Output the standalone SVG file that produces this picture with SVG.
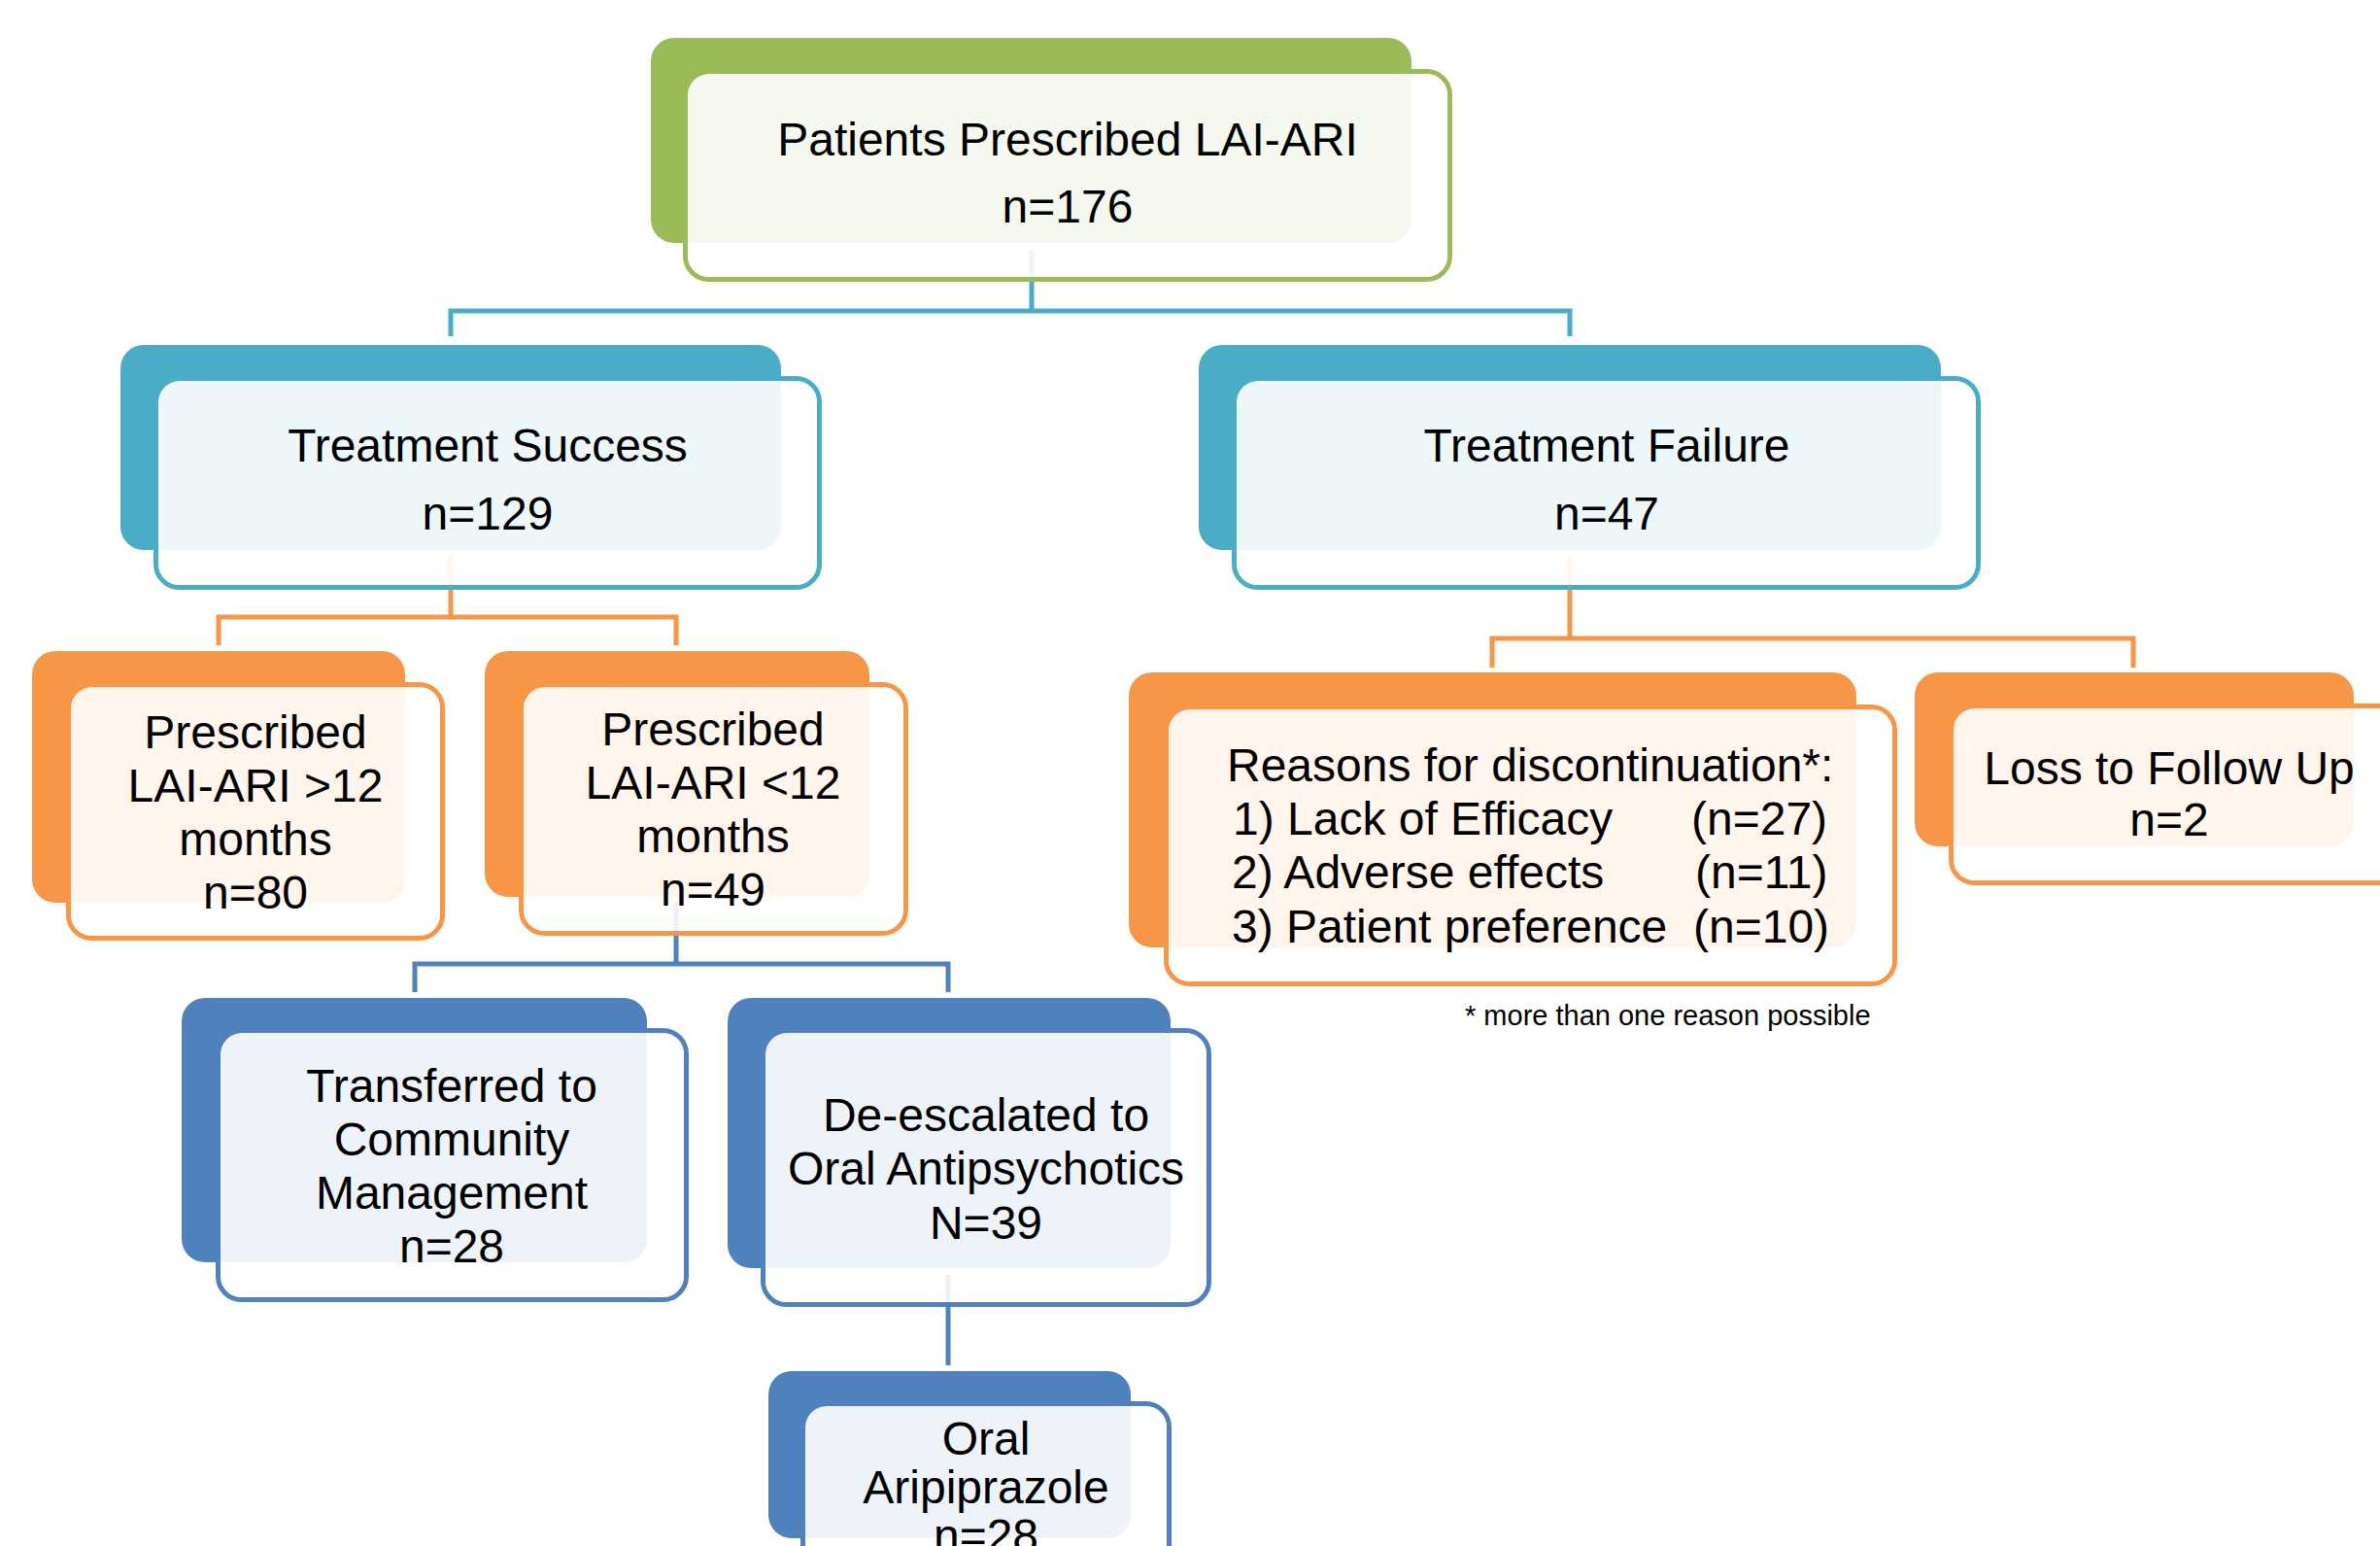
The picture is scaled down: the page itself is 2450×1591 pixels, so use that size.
<svg xmlns="http://www.w3.org/2000/svg" width="2450" height="1591" viewBox="0 0 2450 1591">
<defs>
<style>
.bg{fill:#ffffff}
.ov{fill:#ffffff;fill-opacity:0.9}
.gb{fill:#9bbb59}.gl{fill:none;stroke:#9bbb59;stroke-width:5}
.tb{fill:#4bacc6}.tl{fill:none;stroke:#4bacc6;stroke-width:5}
.ob{fill:#f79646}.ol{fill:none;stroke:#f79646;stroke-width:5}
.bb{fill:#4f81bd}.bl{fill:none;stroke:#4f81bd;stroke-width:5}
.t{font-family:"Liberation Sans",Arial,sans-serif;font-size:48px;fill:#000;text-anchor:middle}
.s{text-anchor:start}
.fn{font-family:"Liberation Sans",Arial,sans-serif;font-size:29px;fill:#000}
.c{fill:none;stroke-width:5}
</style>
</defs>
<rect class="bg" x="0" y="0" width="2450" height="1591"/>
<g id="connectors">
<path class="c" stroke="#4bacc6" d="M1062 257 V320 M464 346 V320 H1616 V346"/>
<path class="c" stroke="#f79646" d="M464 571 V635 M225 664 V635 H696 V664"/>
<path class="c" stroke="#f79646" d="M1616 571 V657 M1536 687 V657 H2196 V687"/>
<path class="c" stroke="#4f81bd" d="M696 928 V992 M427 1021 V992 H976 V1021"/>
<path class="c" stroke="#4f81bd" d="M976 1312 V1405"/>
</g>
<g id="node-patients">
<rect class="gl" x="705.5" y="73.5" width="787" height="214" rx="24"/>
<rect class="gb" x="670" y="39" width="783" height="211" rx="24"/>
<rect class="ov" x="708" y="76" width="782" height="209" rx="22"/>
<text class="t" x="1099" y="160">Patients Prescribed LAI-ARI</text>
<text class="t" x="1099" y="229">n=176</text>
</g>
<g id="node-success">
<rect class="tl" x="160.5" y="389.5" width="683" height="215" rx="24"/>
<rect class="tb" x="124" y="355" width="680" height="211" rx="24"/>
<rect class="ov" x="163" y="392" width="678" height="210" rx="22"/>
<text class="t" x="502" y="475">Treatment Success</text>
<text class="t" x="502" y="545">n=129</text>
</g>
<g id="node-failure">
<rect class="tl" x="1270.5" y="389.5" width="766" height="215" rx="24"/>
<rect class="tb" x="1234" y="355" width="764" height="211" rx="24"/>
<rect class="ov" x="1273" y="392" width="761" height="210" rx="22"/>
<text class="t" x="1654" y="475">Treatment Failure</text>
<text class="t" x="1654" y="545">n=47</text>
</g>
<g id="node-gt12">
<rect class="ol" x="70.5" y="704.5" width="385" height="261" rx="24"/>
<rect class="ob" x="33" y="670" width="384" height="259" rx="24"/>
<rect class="ov" x="73" y="707" width="380" height="256" rx="22"/>
<text class="t" x="263" y="770">Prescribed</text>
<text class="t" x="263" y="825">LAI-ARI &gt;12</text>
<text class="t" x="263" y="880">months</text>
<text class="t" x="263" y="935">n=80</text>
</g>
<g id="node-lt12">
<rect class="ol" x="536.5" y="704.5" width="396" height="256" rx="24"/>
<rect class="ob" x="499" y="670" width="396" height="253" rx="24"/>
<rect class="ov" x="539" y="707" width="391" height="251" rx="22"/>
<text class="t" x="734" y="767">Prescribed</text>
<text class="t" x="734" y="822">LAI-ARI &lt;12</text>
<text class="t" x="734" y="877">months</text>
<text class="t" x="734" y="932">n=49</text>
</g>
<g id="node-reasons">
<rect class="ol" x="1200.5" y="727.5" width="750" height="285" rx="24"/>
<rect class="ob" x="1162" y="692" width="749" height="283" rx="24"/>
<rect class="ov" x="1203" y="730" width="745" height="280" rx="22"/>
<text class="t s" x="1263" y="804">Reasons for discontinuation*:</text>
<text class="t s" x="1269" y="859">1) Lack of Efficacy</text>
<text class="t s" x="1741" y="859">(n=27)</text>
<text class="t s" x="1268" y="914">2) Adverse effects</text>
<text class="t s" x="1745" y="914">(n=11)</text>
<text class="t s" x="1268" y="970">3) Patient preference</text>
<text class="t s" x="1743" y="970">(n=10)</text>
</g>
<g id="node-loss">
<rect class="ol" x="2008.5" y="726.5" width="485" height="182" rx="24"/>
<rect class="ob" x="1971" y="692" width="452" height="179" rx="24"/>
<rect class="ov" x="2011" y="729" width="480" height="177" rx="22"/>
<text class="t" x="2233" y="807">Loss to Follow Up</text>
<text class="t" x="2233" y="860">n=2</text>
</g>
<g id="node-transferred">
<rect class="bl" x="224.5" y="1060.5" width="482" height="277" rx="24"/>
<rect class="bb" x="187" y="1027" width="479" height="272" rx="24"/>
<rect class="ov" x="227" y="1063" width="477" height="272" rx="22"/>
<text class="t" x="465" y="1134">Transferred to</text>
<text class="t" x="465" y="1189">Community</text>
<text class="t" x="465" y="1244">Management</text>
<text class="t" x="465" y="1299">n=28</text>
</g>
<g id="node-deescalated">
<rect class="bl" x="785.5" y="1060.5" width="459" height="282" rx="24"/>
<rect class="bb" x="749" y="1027" width="456" height="278" rx="24"/>
<rect class="ov" x="788" y="1063" width="454" height="277" rx="22"/>
<text class="t" x="1015" y="1164">De-escalated to</text>
<text class="t" x="1015" y="1219">Oral Antipsychotics</text>
<text class="t" x="1015" y="1275">N=39</text>
</g>
<g id="node-oral">
<rect class="bl" x="826.5" y="1444.5" width="377" height="176" rx="24"/>
<rect class="bb" x="791" y="1411" width="373" height="172" rx="24"/>
<rect class="ov" x="829" y="1447" width="372" height="171" rx="22"/>
<text class="t" x="1015" y="1497">Oral</text>
<text class="t" x="1015" y="1547">Aripiprazole</text>
<text class="t" x="1015" y="1597">n=28</text>
</g>
<g id="footnote">
<text class="fn" x="1508" y="1055">* more than one reason possible</text>
</g>
</svg>
